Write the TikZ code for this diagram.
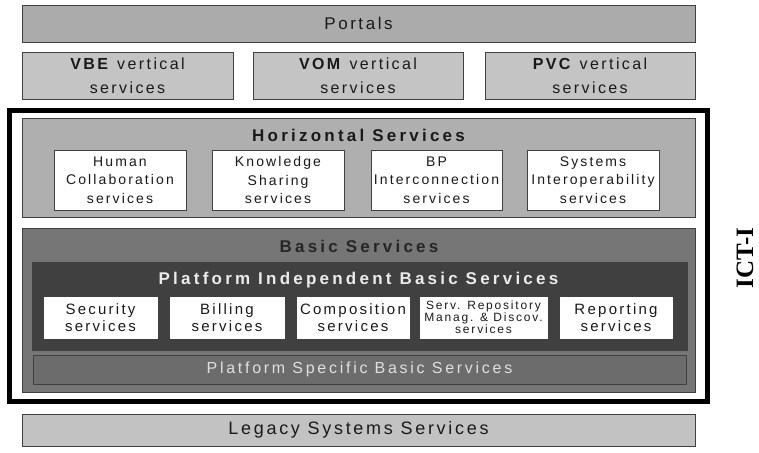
\documentclass[tikz,border=0pt]{standalone}
\usepackage{fontspec}
\setmainfont{Liberation Sans}
\newfontfamily\fsA{Liberation Sans}[LetterSpace=15]
\newfontfamily\fsB{Liberation Sans}[LetterSpace=19]
\newfontfamily\fsC{Liberation Sans}[LetterSpace=17]
\newfontfamily\ictfont{Liberation Serif}
\definecolor{cPortal}{HTML}{ABABAB}
\definecolor{cVert}{HTML}{C4C4C4}
\definecolor{cHoriz}{HTML}{AFAFAF}
\definecolor{cBasic}{HTML}{767676}
\definecolor{cPIB}{HTML}{404040}
\definecolor{cPSB}{HTML}{6C6C6C}
\definecolor{cLegacy}{HTML}{C2C2C2}
\definecolor{cText}{HTML}{1A1A1A}
\tikzset{
  box/.style={draw=black!75, line width=0.9pt, inner sep=0pt, outer sep=0pt, align=center, text=cText},
  vbox/.style={box, fill=cVert, minimum width=210pt, minimum height=47pt, font=\fsA\fontsize{16}{24}\selectfont},
  hbox/.style={box, fill=white, minimum width=132pt, minimum height=60pt, font=\fsA\fontsize{14}{18.5}\selectfont},
  wbox/.style={box, fill=white, minimum height=43pt, font=\fsA\fontsize{15}{17}\selectfont},
  title/.style={inner sep=0pt, font=\fsB\bfseries\fontsize{17}{20}\selectfont},
}
\begin{document}
\begin{tikzpicture}[x=1pt,y=-1pt]
\useasboundingbox (0,0) rectangle (759,452);
% Portals
\node[box, fill=cPortal, minimum width=673pt, minimum height=37pt, font=\fsA\fontsize{17}{20}\selectfont] (portals) at (358.5,23.5) {Portals};
% vertical services
\node[vbox, minimum width=211pt] (vbe) at (127.5,75.5) {\textbf{VBE} vertical\\services};
\node[vbox] (vom) at (358,75.5) {\textbf{VOM} vertical\\services};
\node[vbox] (pvc) at (590,75.5) {\textbf{PVC} vertical\\services};
% ICT-I frame
\node[draw=black, line width=5pt, inner sep=0pt, minimum width=698.5pt, minimum height=291pt] (ict) at (358.25,256) {};
\node[rotate=90, inner sep=0pt, font=\ictfont\bfseries\fontsize{25}{28}\selectfont] (ictlabel) at (745,258) {ICT-I};
% Horizontal services
\node[box, fill=cHoriz, minimum width=673pt, minimum height=99pt] (horiz) at (358.5,167.5) {};
\node[title, text=cText] (horiztitle) at (358.5,135) {Horizontal Services};
\node[hbox] (hc) at (120,180) {Human\\Collaboration\\services};
\node[hbox] (ks) at (278,180) {Knowledge\\Sharing\\services};
\node[hbox, minimum width=131pt] (bp) at (436.5,180) {BP\\Interconnection\\services};
\node[hbox] (si) at (593,180) {Systems\\Interoperability\\services};
% Basic services
\node[box, fill=cBasic, minimum width=673pt, minimum height=164pt] (basic) at (358.5,310) {};
\node[title, text=black!85] (basictitle) at (359,246) {Basic Services};
\node[box, fill=cPIB, minimum width=655pt, minimum height=88pt] (pib) at (359.5,306) {};
\node[title, text=white!92!black] (pibtitle) at (358.5,280.5) {Platform Independent Basic Services};
\node[wbox, minimum width=115pt] (sec) at (100.5,317.5) {Security\\services};
\node[wbox, minimum width=116pt] (bil) at (227,317.5) {Billing\\services};
\node[wbox, minimum width=114pt] (comp) at (353,317.5) {Composition\\services};
\node[wbox, minimum width=129pt, font=\fsA\fontsize{12}{12}\selectfont] (repo) at (483.5,317.5) {Serv. Repository\\Manag. \& Discov.\\services};
\node[wbox, minimum width=114pt] (rep) at (616,317.5) {Reporting\\services};
\node[box, fill=cPSB, minimum width=653pt, minimum height=29pt, text=white!88!black, font=\fsC\fontsize{16}{18}\selectfont] (psb) at (359.5,369.5) {Platform Specific Basic Services};
% Legacy
\node[box, fill=cLegacy, minimum width=673pt, minimum height=32pt, font=\fsA\fontsize{18}{20}\selectfont] (legacy) at (358.5,430) {Legacy Systems Services};
\end{tikzpicture}
\end{document}
